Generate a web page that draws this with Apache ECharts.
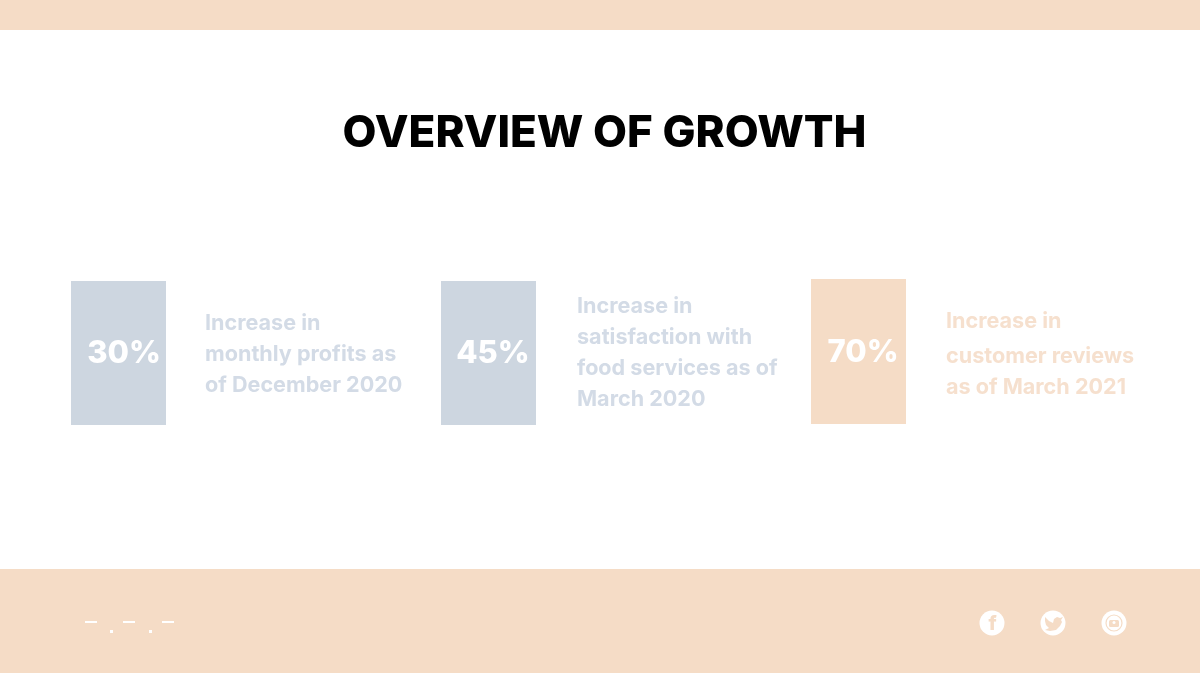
<!DOCTYPE html>
<html>
<head>
<meta charset="utf-8">
<style>html,body{margin:0;padding:0;background:#fff}#c{width:1200px;height:675px}</style>
<script src="https://cdn.jsdelivr.net/npm/echarts@6/dist/echarts.min.js"></script>
</head>
<body>
<div id="c"></div>
<script>
const titleText = 'OVERVIEW OF GROWTH';
const percentLabels = ['30%', '45%', '70%'];
const descriptions = [
  ['Increase in', 'monthly profits as', 'of December 2020'],
  ['Increase in', 'satisfaction with', 'food services as of', 'March 2020'],
  ['Increase in', 'customer reviews', 'as of March 2021']
];
const blue = '#cdd6e0', peach = '#f5dcc6', textBlue = '#d3dbe6', textPeach = '#f6e0ce';
const boxColors = [blue, blue, peach];
const textColors = [textBlue, textBlue, textPeach];
const boxLefts = [71, 441, 811];
const boxTops = [281, 281, 279];
const boxHeights = [144, 144, 145];
const pctCenters = [124, 493, 863];
const pctY = [352, 352, 351];
const textLefts = [205, 577, 946];
const lineYs = [[322, 353, 384], [305, 336, 367, 398], [320, 355, 386]];
const dashXs = [85, 123, 162];
const dotXs = [110, 149];
const iconXs = [992, 1053, 1114];
const birdPoints = [[1045,617],[1049,621],[1053,623],[1054,619],[1057,617],[1060,618],[1063,617],[1061,620],[1062,622],[1060,626],[1056,630],[1050,631],[1045,630],[1049,628],[1046,625],[1045,621]];
const font = 'Inter, "Open Sans", sans-serif';

const g = [];
g.push({type:'rect', shape:{x:0,y:0,width:1200,height:30}, style:{fill:peach}});
g.push({type:'rect', shape:{x:0,y:569,width:1200,height:104}, style:{fill:peach}});
g.push({type:'text', x:604.5, y:134, style:{text:titleText, fill:'#000', font:'800 44px '+font, textAlign:'center', textVerticalAlign:'middle'}});
percentLabels.forEach((p,i)=>{
  g.push({type:'rect', shape:{x:boxLefts[i],y:boxTops[i],width:95,height:boxHeights[i]}, style:{fill:boxColors[i]}});
  g.push({type:'text', x:pctCenters[i], y:pctY[i]+2, style:{text:p, fill:'#fff', font:'800 31px '+font, textAlign:'center', textVerticalAlign:'middle'}});
  descriptions[i].forEach((t,j)=>{
    g.push({type:'text', x:textLefts[i], y:lineYs[i][j]+1, style:{text:t, fill:textColors[i], font:'700 21.6px '+font, textAlign:'left', textVerticalAlign:'middle'}});
  });
});
dashXs.forEach(x=>g.push({type:'rect', shape:{x:x,y:621,width:12,height:2}, style:{fill:'#fff'}}));
dotXs.forEach(x=>g.push({type:'rect', shape:{x:x,y:630,width:3,height:3}, style:{fill:'#fff'}}));
iconXs.forEach(x=>g.push({type:'circle', shape:{cx:x,cy:623,r:12.5}, style:{fill:'#fff'}}));
// facebook glyph
g.push({type:'text', x:iconXs[0]+0.5, y:624, style:{text:'f', fill:peach, font:'800 20px '+font, textAlign:'center', textVerticalAlign:'middle'}});
// twitter glyph
g.push({type:'polygon', shape:{points:birdPoints}, style:{fill:peach}});
// camera glyph
g.push({type:'circle', shape:{cx:iconXs[2],cy:623,r:8}, style:{fill:'none', stroke:peach, lineWidth:1.2}});
g.push({type:'rect', shape:{x:1109,y:620,width:10,height:7,r:1.5}, style:{fill:peach}});
g.push({type:'circle', shape:{cx:iconXs[2],cy:622.5,r:1.5}, style:{fill:'#fff'}});

const chart = echarts.init(document.getElementById('c'), null, {renderer:'canvas'});
chart.setOption({backgroundColor:'#fff', animation:false, graphic:{elements:g}});
</script>
</body>
</html>
